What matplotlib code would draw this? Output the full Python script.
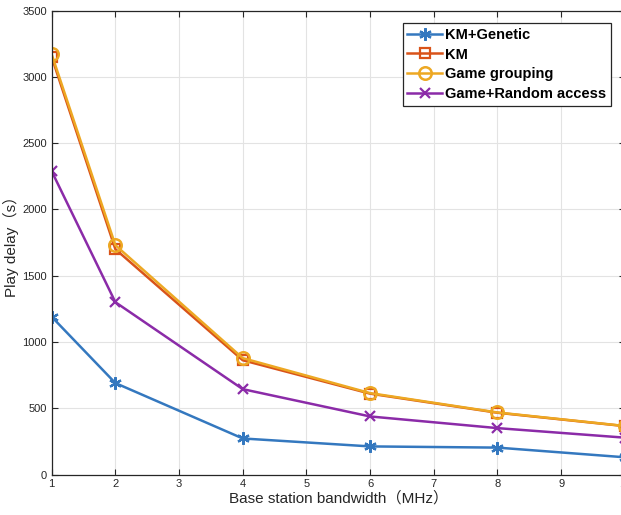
import numpy as np
import matplotlib
matplotlib.use('Agg')
import matplotlib.pyplot as plt

plt.rcParams['font.family'] = ['Liberation Sans', 'Noto Sans CJK SC', 'DejaVu Sans']

# bandwidth (MHz)
bandwidth = [1, 2, 4, 6, 8, 10]

# play delay (s)
km_genetic = [1190, 690, 272, 212, 203, 130]
km = [3150, 1700, 862, 610, 466, 365]
game_grouping = [3170, 1730, 878, 614, 468, 366]
game_random = [2288, 1300, 644, 438, 350, 278]

fig = plt.figure(figsize=(6.21, 5.15), dpi=100)
ax = fig.add_axes([0.0832, 0.0786, 0.923, 0.901])

ax.plot(bandwidth, km_genetic, color='#3478BF', lw=1.8, marker=(6, 2, 0),
        ms=9, mew=1.6, label='KM+Genetic')
ax.plot(bandwidth, km, color='#D95319', lw=1.8, marker='s', ms=7,
        mfc='none', mew=1.6, label='KM')
ax.plot(bandwidth, game_grouping, color='#EDA823', lw=1.8, marker='o', ms=9,
        mfc='none', mew=1.8, label='Game grouping')
ax.plot(bandwidth, game_random, color='#8B2BA8', lw=1.8, marker='x', ms=7,
        mew=1.6, label='Game+Random access')

ax.set_xlim(1, 10)
ax.set_ylim(0, 3500)
ax.set_xticks(range(1, 11))
ax.set_yticks(range(0, 3501, 500))
ax.grid(True, color='#e3e3e3', lw=0.8)
ax.set_axisbelow(True)
ax.tick_params(direction='in', top=True, right=True, labelsize=8,
               colors='#262626', length=4)
for s in ax.spines.values():
    s.set_color('#262626')
    s.set_linewidth(0.9)

ax.set_xlabel('Base station bandwidth（MHz）', fontsize=11, color='#262626', labelpad=1)
ax.set_ylabel('Play delay（s）', fontsize=11, color='#262626', labelpad=2)

leg = ax.legend(loc='upper right', bbox_to_anchor=(0.988, 0.988),
                prop={'weight': 'bold', 'size': 10.5}, fancybox=False,
                edgecolor='#262626', framealpha=1, handlelength=2.4,
                handletextpad=0.2, borderpad=0.3, labelspacing=0.4,
                borderaxespad=0.5)
leg.get_frame().set_linewidth(0.9)

fig.savefig('out.png', dpi=100)
